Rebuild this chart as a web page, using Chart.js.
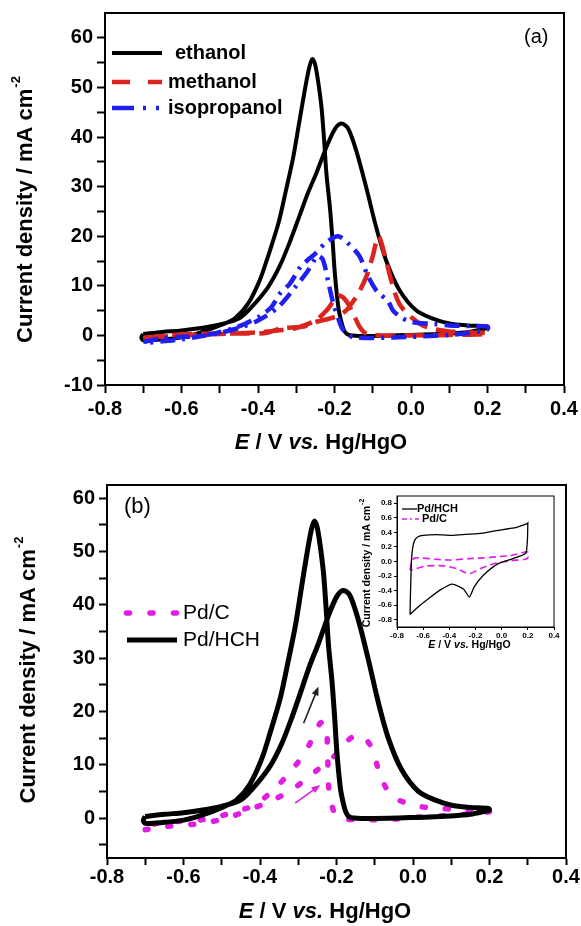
<!DOCTYPE html>
<html>
<head>
<meta charset="utf-8">
<title>CV curves</title>
<script src="https://cdn.jsdelivr.net/npm/chart.js@4.4.1/dist/chart.umd.min.js"></script>
<style>
  html, body { margin: 0; padding: 0; background: #fff; overflow: hidden; }
  #page { position: relative; width: 581px; height: 926px; }
  canvas { position: absolute; }
  #chartA { left: 0; top: 0; }
  #chartB { left: 0; top: 460px; }
  #inset { left: 340px; top: 480px; }
</style>
</head>
<body>
<div id="page">
  <canvas id="chartA" width="581" height="460"></canvas>
  <canvas id="chartB" width="581" height="466"></canvas>
  <canvas id="inset" width="225" height="175"></canvas>
</div>
<script>
// ---- data (E in V vs Hg/HgO, j in mA cm-2), forward scan then backward scan ----
const ethanolE = [-0.700, -0.650, -0.600, -0.550, -0.500, -0.450, -0.417, -0.374, -0.343, -0.317, -0.291, -0.270, -0.247, -0.221, -0.199, -0.182, -0.165, -0.143, -0.117, -0.091, -0.065, -0.030, 0.014, 0.057, 0.101, 0.150, 0.198,
                  0.200, 0.190, 0.150, 0.100, 0.000, -0.100, -0.155, -0.168, -0.176, -0.183, -0.190, -0.199, -0.205, -0.212, -0.221, -0.227, -0.234, -0.243, -0.251, -0.258, -0.266, -0.278, -0.293, -0.308, -0.327, -0.347, -0.374, -0.395, -0.426, -0.461, -0.496, -0.550, -0.600, -0.650, -0.700, -0.705, -0.700];
const ethanolJ = [0.3, 0.7, 1.0, 1.5, 2.2, 3.4, 5.7, 9.7, 14.0, 18.8, 24.2, 28.6, 32.8, 38.0, 41.6, 42.7, 41.8, 37.2, 29.8, 21.8, 15.1, 9.1, 5.0, 3.4, 2.4, 2.0, 1.8,
                  1.5, 1.3, 0.7, 0.4, 0.1, -0.1, 0.0, 0.3, 1.2, 3.0, 5.7, 12.4, 19.1, 25.8, 32.5, 39.2, 46.0, 51.3, 54.7, 55.7, 54.0, 49.3, 42.6, 35.9, 29.2, 22.5, 15.9, 11.2, 6.4, 3.4, 2.1, 0.6, -0.4, -0.8, -1.0, -0.4, 0.3];

const methanolE = [-0.700, -0.600, -0.500, -0.440, -0.380, -0.340, -0.280, -0.250, -0.200, -0.170, -0.150, -0.134, -0.116, -0.100, -0.085, -0.069, -0.051, -0.030, 0.005, 0.040, 0.100, 0.200,
                   0.200, 0.100, 0.000, -0.080, -0.116, -0.134, -0.151, -0.170, -0.185, -0.195, -0.221, -0.250, -0.300, -0.350, -0.400, -0.500, -0.600, -0.700];
const methanolJ = [-0.5, 0.2, 0.4, 0.4, 0.5, 1.4, 1.8, 2.7, 3.7, 5.0, 7.0, 9.0, 12.0, 16.0, 20.0, 16.3, 10.9, 6.3, 3.4, 1.7, 0.8, 0.5,
                   0.3, 0.1, 0.0, 0.0, 0.3, 1.7, 4.4, 7.0, 8.0, 7.7, 5.0, 3.0, 1.5, 1.0, 0.6, 0.3, 0.0, -0.5];

const isopropanolE = [-0.700, -0.652, -0.600, -0.565, -0.520, -0.470, -0.435, -0.395, -0.365, -0.343, -0.317, -0.290, -0.273, -0.250, -0.221, -0.190, -0.160, -0.134, -0.115, -0.090, -0.060, -0.047, -0.025, 0.000, 0.060, 0.100, 0.150, 0.200,
                      0.200, 0.150, 0.100, 0.000, -0.100, -0.150, -0.165, -0.180, -0.190, -0.204, -0.217, -0.230, -0.242, -0.250, -0.270, -0.300, -0.350, -0.400, -0.450, -0.500, -0.550, -0.600, -0.650, -0.700];
const isopropanolJ = [-1.3, -0.6, -0.3, -0.2, 0.3, 1.3, 2.3, 3.9, 5.7, 8.4, 10.4, 13.7, 15.0, 16.5, 18.8, 20.0, 18.2, 15.9, 12.4, 9.0, 6.9, 5.0, 3.6, 2.7, 2.3, 2.0, 1.9, 1.8,
                      1.2, 0.5, 0.1, -0.3, -0.5, -0.4, 0.2, 1.4, 3.4, 6.7, 11.0, 15.2, 16.0, 15.5, 13.0, 10.0, 5.5, 3.0, 1.5, 0.5, -0.2, -0.8, -1.2, -1.6];

// panel (b): Pd/HCH is the ethanol curve above
const pdHchE = ethanolE;
const pdHchJ = ethanolJ;
const pdCE = [-0.700, -0.648, -0.592, -0.535, -0.474, -0.431, -0.374, -0.317, -0.261, -0.200, -0.170, -0.143, -0.120, -0.104, -0.086, -0.056, -0.003, 0.058, 0.114, 0.200,
              0.200, 0.100, 0.041, -0.020, -0.077, -0.147, -0.190, -0.204, -0.219, -0.222, -0.224, -0.226, -0.235, -0.244, -0.274, -0.313, -0.361, -0.413, -0.492, -0.550, -0.670, -0.700];
const pdCJ = [-2.2, -1.6, -1.3, -0.8, 0.3, 1.5, 3.1, 5.3, 8.4, 12.0, 14.6, 15.6, 14.5, 12.5, 8.1, 4.2, 2.5, 1.8, 1.7, 1.5,
              1.2, 0.5, 0.3, 0.0, -0.3, -0.3, -0.1, 0.6, 4.8, 9.2, 13.3, 17.2, 18.0, 17.7, 13.4, 9.3, 5.6, 2.5, 0.6, -0.3, -1.0, -2.2];

// inset (blank electrolyte)
const insetHchE = [-0.700, -0.698, -0.694, -0.690, -0.680, -0.665, -0.640, -0.600, -0.500, -0.395, -0.300, -0.200, -0.140, -0.050, 0.050, 0.115, 0.166, 0.195, 0.200,
                   0.200, 0.197, 0.186, 0.150, 0.086, -0.027, -0.140, -0.210, -0.247, -0.290, -0.378, -0.460, -0.545, -0.630, -0.685, -0.700];
const insetHchJ = [-0.73, -0.50, -0.26, 0.00, 0.19, 0.29, 0.34, 0.36, 0.37, 0.36, 0.37, 0.38, 0.39, 0.42, 0.45, 0.47, 0.50, 0.52, 0.53,
                   0.53, 0.30, 0.12, 0.08, 0.04, -0.03, -0.19, -0.35, -0.49, -0.38, -0.31, -0.38, -0.49, -0.61, -0.70, -0.73];
const insetPdCE = [-0.700, -0.690, -0.662, -0.500, -0.395, -0.250, -0.140, 0.000, 0.064, 0.180, 0.200,
                   0.200, 0.180, 0.064, -0.060, -0.165, -0.250, -0.340, -0.440, -0.570, -0.700];
const insetPdCJ = [-0.12, 0.00, 0.05, 0.03, 0.02, 0.04, 0.05, 0.07, 0.08, 0.13, 0.13,
                   0.05, 0.03, 0.01, -0.03, -0.10, -0.17, -0.10, -0.06, -0.06, -0.12];

// scan direction arrows in (b): [E start, j start, E end, j end]
const arrowPdHch = [-0.286, 17.8, -0.247, 24.7];
const arrowPdC = [-0.308, 2.8, -0.242, 6.2];

// ticks
const eTicks = [-0.8, -0.7, -0.6, -0.5, -0.4, -0.3, -0.2, -0.1, 0, 0.1, 0.2, 0.3, 0.4];
const eLabels = [-0.8, -0.6, -0.4, -0.2, 0, 0.2, 0.4];
const jTicksA = [-10, -5, 0, 5, 10, 15, 20, 25, 30, 35, 40, 45, 50, 55, 60];
const jTicksB = [-5, 0, 5, 10, 15, 20, 25, 30, 35, 40, 45, 50, 55, 60];
const jLabels = [-10, 0, 10, 20, 30, 40, 50, 60];
const insetETicks = [-0.8, -0.6, -0.4, -0.2, 0, 0.2, 0.4];
const insetJTicks = [-0.8, -0.6, -0.4, -0.2, 0, 0.2, 0.4, 0.6, 0.8];

const seriesA = ['ethanol', 'methanol', 'isopropanol'];
const seriesB = ['Pd/C', 'Pd/HCH'];

// ---- helpers ----
const FONT = "'Liberation Sans', Arial, Helvetica, sans-serif";
const BLACK = '#000000';
const RED = '#d9251d';
const BLUE = '#1f1ff2';
const MAGENTA = '#e21de2';

const pts = (xs, ys) => xs.map((x, i) => ({ x: x, y: ys[i] }));
const near = (list, v) => list.some(t => Math.abs(t - v) < 1e-6);

function fixSize(size, vertical) {
  return function (scale) {
    if (vertical) scale.width = size; else scale.height = size;
    scale.paddingLeft = 0; scale.paddingRight = 0;
    scale.paddingTop = 0; scale.paddingBottom = 0;
  };
}

function axis(opts) {
  return {
    type: 'linear',
    min: opts.min, max: opts.max,
    afterFit: fixSize(opts.size, opts.vertical),
    afterBuildTicks: s => { s.ticks = opts.ticks.map(v => ({ value: v })); },
    ticks: {
      autoSkip: false, maxRotation: 0, minRotation: 0,
      padding: opts.pad, color: BLACK,
      font: { family: FONT, size: opts.font, weight: 'bold' },
      callback: v => (near(opts.labels, v) ? (opts.fmt ? opts.fmt(v) : String(v)) : '')
    },
    grid: { drawOnChartArea: false, tickLength: opts.tick, tickColor: BLACK, tickWidth: opts.lw },
    border: { color: BLACK, width: opts.lw }
  };
}

function drawFrame(ctx, a, lw) {
  ctx.save();
  ctx.strokeStyle = BLACK;
  ctx.lineWidth = lw;
  ctx.strokeRect(a.left, a.top, a.right - a.left, a.bottom - a.top);
  ctx.restore();
}

function drawYTitle(ctx, x, yc, size, supSize) {
  const main = 'Current density / mA cm';
  const sup = '-2';
  ctx.save();
  ctx.font = 'bold ' + size + 'px ' + FONT;
  const w1 = ctx.measureText(main).width;
  ctx.font = 'bold ' + supSize + 'px ' + FONT;
  const w2 = ctx.measureText(sup).width;
  const start = -(w1 + w2) / 2;
  ctx.translate(x, yc);
  ctx.rotate(-Math.PI / 2);
  ctx.fillStyle = BLACK;
  ctx.textBaseline = 'middle';
  ctx.textAlign = 'left';
  ctx.font = 'bold ' + size + 'px ' + FONT;
  ctx.fillText(main, start, 0);
  ctx.font = 'bold ' + supSize + 'px ' + FONT;
  ctx.fillText(sup, start + w1 + 1, -size * 0.45);
  ctx.restore();
}

function drawXTitle(ctx, xc, y, size) {
  const parts = [['E', 'italic bold'], [' / V ', 'bold'], ['vs.', 'italic bold'], [' Hg/HgO', 'bold']];
  ctx.save();
  ctx.fillStyle = BLACK;
  ctx.textBaseline = 'middle';
  ctx.textAlign = 'left';
  let total = 0;
  parts.forEach(p => { ctx.font = p[1] + ' ' + size + 'px ' + FONT; total += ctx.measureText(p[0]).width; });
  let x = xc - total / 2;
  parts.forEach(p => {
    ctx.font = p[1] + ' ' + size + 'px ' + FONT;
    ctx.fillText(p[0], x, y);
    x += ctx.measureText(p[0]).width;
  });
  ctx.restore();
}

function sampleLine(ctx, x1, x2, y, ds, dash) {
  ctx.save();
  ctx.strokeStyle = ds.borderColor;
  ctx.lineWidth = ds.borderWidth;
  ctx.lineCap = ds.borderCapStyle || 'butt';
  ctx.setLineDash(dash || []);
  ctx.beginPath();
  ctx.moveTo(x1, y);
  ctx.lineTo(x2, y);
  ctx.stroke();
  ctx.restore();
}

function label(ctx, text, x, y, font) {
  ctx.save();
  ctx.fillStyle = BLACK;
  ctx.font = font;
  ctx.textBaseline = 'middle';
  ctx.textAlign = 'left';
  ctx.fillText(text, x, y);
  ctx.restore();
}

function drawArrow(ctx, chart, a, color, lw) {
  const xs = chart.scales.x, ys = chart.scales.y;
  const x1 = xs.getPixelForValue(a[0]), y1 = ys.getPixelForValue(a[1]);
  const x2 = xs.getPixelForValue(a[2]), y2 = ys.getPixelForValue(a[3]);
  const ang = Math.atan2(y2 - y1, x2 - x1);
  const hl = 9, hw = 3.5;
  ctx.save();
  ctx.strokeStyle = color; ctx.fillStyle = color; ctx.lineWidth = lw;
  ctx.beginPath();
  ctx.moveTo(x1, y1);
  ctx.lineTo(x2 - hl * 0.8 * Math.cos(ang), y2 - hl * 0.8 * Math.sin(ang));
  ctx.stroke();
  ctx.beginPath();
  ctx.moveTo(x2, y2);
  ctx.lineTo(x2 - hl * Math.cos(ang) + hw * Math.sin(ang), y2 - hl * Math.sin(ang) - hw * Math.cos(ang));
  ctx.lineTo(x2 - hl * Math.cos(ang) - hw * Math.sin(ang), y2 - hl * Math.sin(ang) + hw * Math.cos(ang));
  ctx.closePath();
  ctx.fill();
  ctx.restore();
}

const eFmt = v => v.toFixed(1);
const common = {
  responsive: false,
  animation: false,
  devicePixelRatio: 1,
  plugins: { legend: { display: false }, tooltip: { enabled: false } },
  elements: { point: { radius: 0 } }
};

// ---- panel (a) ----
const dashA = { methanol: [20, 9], isopropanol: [15, 7, 3, 7] };
new Chart(document.getElementById('chartA'), {
  type: 'scatter',
  data: {
    datasets: [
      { label: seriesA[2], data: pts(isopropanolE, isopropanolJ), showLine: true, borderColor: BLUE, borderWidth: 4.5, borderDash: dashA.isopropanol, tension: 0.3 },
      { label: seriesA[1], data: pts(methanolE, methanolJ), showLine: true, borderColor: RED, borderWidth: 4.5, borderDash: dashA.methanol, tension: 0.3 },
      { label: seriesA[0], data: pts(ethanolE, ethanolJ), showLine: true, borderColor: BLACK, borderWidth: 4, tension: 0.3 }
    ]
  },
  options: Object.assign({}, common, {
    layout: { padding: { top: 13, right: 17, left: 0, bottom: 0 } },
    scales: {
      x: axis({ min: -0.8, max: 0.4, ticks: eTicks, labels: eLabels, fmt: eFmt, size: 75, vertical: false, pad: 4, tick: 8, font: 20, lw: 2 }),
      y: axis({ min: -10, max: 65, ticks: jTicksA, labels: jLabels, size: 105, vertical: true, pad: 4, tick: 8, font: 20, lw: 2 })
    }
  }),
  plugins: [{
    id: 'decorA',
    afterDraw(chart) {
      const ctx = chart.ctx, a = chart.chartArea, ds = chart.data.datasets;
      drawFrame(ctx, a, 2);
      drawYTitle(ctx, 26, (a.top + a.bottom) / 2 + 11, 22, 13);
      drawXTitle(ctx, 321, 443, 22);
      const f = 'bold 20px ' + FONT;
      sampleLine(ctx, 112, 162, 53, ds[2], []);
      label(ctx, seriesA[0], 175, 53, f);
      sampleLine(ctx, 112, 162, 82, ds[1], [18, 18]);
      label(ctx, seriesA[1], 168, 82, f);
      sampleLine(ctx, 112, 162, 108, ds[0], [22, 9, 3, 10, 3, 10]);
      label(ctx, seriesA[2], 168, 108, f);
      label(ctx, '(a)', 524, 37, '20px ' + FONT);
    }
  }]
});

// ---- panel (b) ----
new Chart(document.getElementById('chartB'), {
  type: 'scatter',
  data: {
    datasets: [
      { label: seriesB[1], data: pts(pdHchE, pdHchJ), showLine: true, borderColor: BLACK, borderWidth: 5, tension: 0.3 },
      { label: seriesB[0], data: pts(pdCE, pdCJ), showLine: true, borderColor: MAGENTA, borderWidth: 5.5, borderDash: [3, 20], borderCapStyle: 'round', tension: 0.3 }
    ]
  },
  options: Object.assign({}, common, {
    layout: { padding: { top: 25, right: 15, left: 0, bottom: 0 } },
    scales: {
      x: axis({ min: -0.8, max: 0.4, ticks: eTicks, labels: eLabels, fmt: eFmt, size: 68, vertical: false, pad: 0, tick: 7, font: 20, lw: 2 }),
      y: axis({ min: -7.5, max: 62.5, ticks: jTicksB, labels: jLabels, size: 107, vertical: true, pad: 4, tick: 8, font: 20, lw: 2 })
    }
  }),
  plugins: [{
    id: 'decorB',
    afterDraw(chart) {
      const ctx = chart.ctx, a = chart.chartArea, ds = chart.data.datasets;
      drawFrame(ctx, a, 2);
      drawYTitle(ctx, 29, (a.top + a.bottom) / 2 - 1, 22, 13);
      drawXTitle(ctx, 325, 452, 22);
      drawArrow(ctx, chart, arrowPdHch, '#222', 1.6);
      drawArrow(ctx, chart, arrowPdC, MAGENTA, 1.6);
      const f = '21px ' + FONT;
      [128, 151.5, 175].forEach(x => sampleLine(ctx, x - 1.5, x + 1.5, 153, ds[1], []));
      label(ctx, seriesB[0], 183, 153, f);
      sampleLine(ctx, 127, 177, 180, ds[0], []);
      label(ctx, seriesB[1], 183, 180, f);
      label(ctx, '(b)', 124, 47, '22px ' + FONT);
    }
  }]
});

// ---- inset ----
new Chart(document.getElementById('inset'), {
  type: 'scatter',
  data: {
    datasets: [
      { label: seriesB[1], data: pts(insetHchE, insetHchJ), showLine: true, borderColor: BLACK, borderWidth: 1.3, tension: 0.2 },
      { label: seriesB[0], data: pts(insetPdCE, insetPdCJ), showLine: true, borderColor: MAGENTA, borderWidth: 1.6, borderDash: [7, 4], tension: 0.2 }
    ]
  },
  options: Object.assign({}, common, {
    layout: { padding: { top: 16, right: 11, left: 0, bottom: 0 } },
    scales: {
      x: axis({ min: -0.8, max: 0.4, ticks: insetETicks, labels: insetETicks, fmt: eFmt, size: 28, vertical: false, pad: 1, tick: 3, font: 8, lw: 1 }),
      y: axis({ min: -0.9, max: 0.9, ticks: insetJTicks, labels: insetJTicks, fmt: eFmt, size: 57, vertical: true, pad: 2, tick: 3, font: 8, lw: 1 })
    }
  }),
  plugins: [{
    id: 'decorInset',
    afterDraw(chart) {
      const ctx = chart.ctx, a = chart.chartArea, ds = chart.data.datasets;
      drawFrame(ctx, a, 1);
      drawYTitle(ctx, 27, (a.top + a.bottom) / 2 + 2, 10.5, 7);
      drawXTitle(ctx, (a.left + a.right) / 2 - 6, 165, 10.5);
      const f = 'bold 11px ' + FONT;
      sampleLine(ctx, 62, 77, 29, ds[0], []);
      label(ctx, seriesB[1], 77, 29, f);
      sampleLine(ctx, 62, 79, 39, ds[1], [5, 3, 2, 3]);
      label(ctx, seriesB[0], 82, 39, f);
    }
  }]
});
</script>
</body>
</html>
